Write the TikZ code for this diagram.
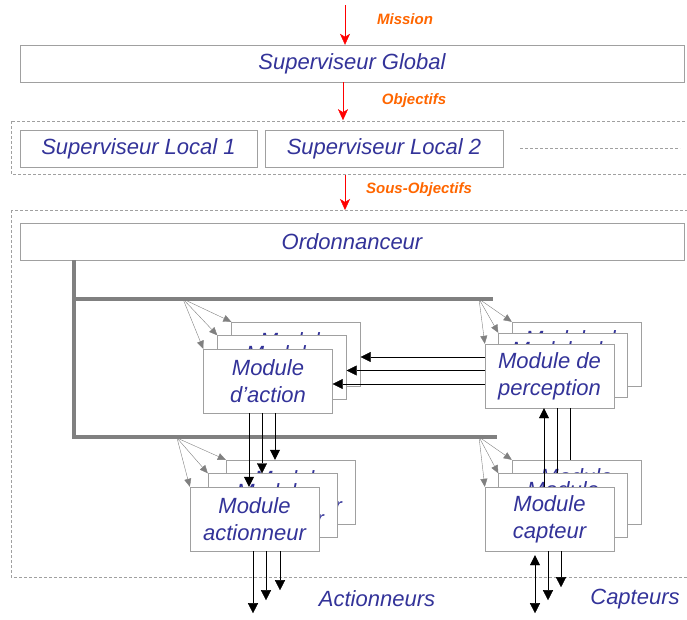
\documentclass[tikz,border=0pt]{standalone}
\usepackage{fontspec}
\setmainfont{Liberation Sans}
\usetikzlibrary{arrows.meta}
\definecolor{txtblue}{RGB}{51,51,153}
\definecolor{lblorange}{RGB}{255,102,0}
\definecolor{boxgray}{RGB}{160,160,160}

\tikzset{
  box/.style={draw=boxgray, fill=white, inner sep=0pt, text=txtblue,
    font=\fontsize{22}{27}\selectfont\itshape, align=center},
  module/.style={box, minimum width=129pt, minimum height=64pt},
  zone/.style={draw=boxgray, dash pattern=on 3pt off 2pt},
  flow/.style={red, -{Stealth[length=11pt,width=10pt,inset=3pt]}},
  flowlabel/.style={text=lblorange, font=\fontsize{15}{18}\selectfont\bfseries\itshape},
  feed/.style={gray, -{Triangle[length=8pt,width=7pt]}},
  bus/.style={gray, line width=3.5pt},
  outlabel/.style={text=txtblue, font=\fontsize{22}{27}\selectfont\itshape},
  >={Triangle[length=10pt,width=10pt]}
}

\begin{document}
\begin{tikzpicture}[x=1pt,y=-1pt]
\useasboundingbox (0,0) rectangle (687,619);

% dashed zones
\draw[zone] (11,121) rectangle (690,174);
\draw[zone] (11,210) rectangle (690,577);

% supervisors
\node[box, minimum width=664pt, minimum height=37pt] (sg) at (352,63.5) {Superviseur Global};
\node[box, minimum width=237pt, minimum height=37pt] (sl1) at (138.5,148.5) {Superviseur Local 1};
\node[box, minimum width=238pt, minimum height=37pt] (sl2) at (384,148.5) {Superviseur Local 2};
\draw[zone] ([xshift=17pt]sl2.east) -- ++(160,0);
\node[box, minimum width=664pt, minimum height=37pt] (ord) at (352,241.5) {Ordonnanceur};

% red flows and their labels
\coordinate (mis) at (345,5);
\draw[flow] (mis) -- (mis |- sg.north);
\coordinate (obj) at ([xshift=-9pt]sg.south);
\draw[flow] (obj) -- ++(0,38);
\coordinate (sobj) at (345,175);
\draw[flow] (sobj) -- ++(0,35);
\node[flowlabel] (lmis) at (405,19) {Mission};
\node[flowlabel] (lobj) at (414,101) {Objectifs};
\node[flowlabel] (lsobj) at (419,190) {Sous-Objectifs};

% the bus from the scheduler
\draw[bus] ([xshift=54pt]ord.south west) |- (497,437);
\draw[bus] (74,299) -- (493,299);

% stacks of modules, back to front
\foreach \k in {2,1,0}
{
  \node[module] (act\k) at (268+14*\k, 381-13.5*\k) {Module\\d'action};
  \node[module] (per\k) at (549.5+13.5*\k, 376-11*\k) {Module de\\perception};
  \node[module] (acr\k) at (254.5+18*\k, 519-13.5*\k) {Module\\actionneur};
  \node[module] (cap\k) at (549.5+13.5*\k, 519-13.5*\k) {Module\\capteur};
}

% gray activation arrows from the bus
\coordinate (fact) at (183,299);
\coordinate (fper) at (479,299);
\coordinate (facr) at (177,438);
\coordinate (fcap) at (479,437);
\foreach \k in {2,1,0}
{
  \draw[feed] (fact) -- (act\k.north west);
  \draw[feed] (fper) -- (per\k.north west);
  \draw[feed] (facr) -- (acr\k.north west);
  \draw[feed] (fcap) -- (cap\k.north west);
}

% perception -> action
\foreach \k in {0,1,2}
{
  \coordinate (in\k) at ([yshift=-3pt]act\k.east);
  \draw[->] (in\k -| per0.west) -- (in\k);
}

% action -> actionneurs
\foreach \k/\dx in {0/-19,1/-6,2/7}
{
  \coordinate (d\k) at ([xshift=\dx pt]act0.south);
  \draw[->] (d\k) -- (d\k |- acr\k.north);
}

% capteurs -> perception
\coordinate (u0) at ([xshift=-5.5pt]per0.south);
\coordinate (u1) at ([xshift=7.5pt]per0.south);
\coordinate (u2) at ([xshift=20.5pt]per0.south);
\draw[->] (u0 |- cap0.north) -- (u0);
\draw (u1) -- (u1 |- cap1.north);
\draw (u2) -- (u2 |- cap2.north);

% outputs
\foreach \dx/\len in {-1.5/62,11.5/49,25.5/39}
  \draw[->] ([xshift=\dx pt]acr0.south) -- ++(0,\len);
\draw[<->] ([xshift=-14.5pt,yshift=-4pt]cap0.south) -- ++(0,58);
\draw[->] ([xshift=-1.5pt]cap0.south) -- ++(0,49);
\draw[->] ([xshift=11.5pt]cap0.south) -- ++(0,36);

\node[outlabel] (lacr) at (377,599) {Actionneurs};
\node[outlabel] (lcap) at (635,599) {Capteurs};

\end{tikzpicture}
\end{document}
